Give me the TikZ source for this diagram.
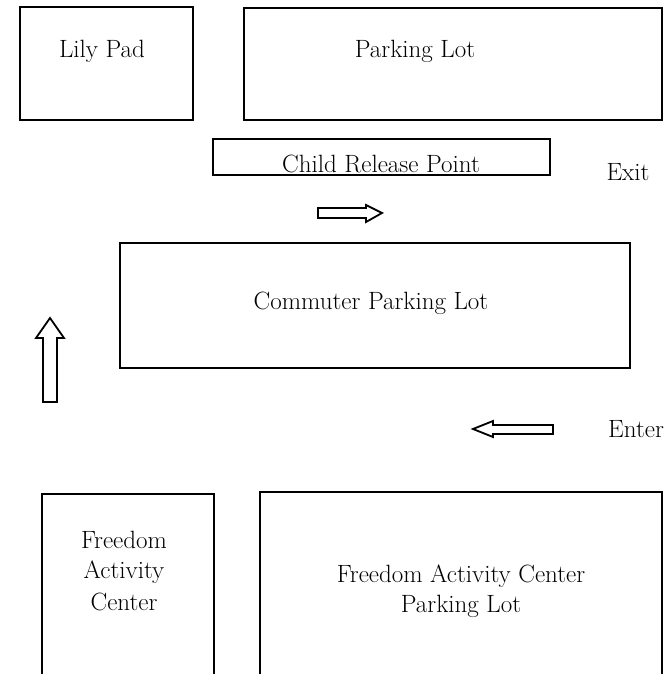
\documentclass[tikz,border=0pt]{standalone}
\usepackage{fontspec}
\setmainfont{Latin Modern Roman}
\begin{document}
\begin{tikzpicture}[x=1pt,y=-1pt,
  box/.style={draw=black,line width=2pt},
  blockarrow/.style={draw=black,line width=1.8pt,fill=white,line join=miter},
  lbl/.style={font=\fontsize{25}{30}\selectfont,inner sep=0pt,anchor=base}]
\useasboundingbox (0,0) rectangle (667,674);
% boxes
\draw[box] (20,7) rectangle (193,120);
\draw[box] (244,8) rectangle (662,120);
\draw[box] (213,139) rectangle (550,175);
\draw[box] (120,243) rectangle (630,368);
\draw[box] (42,674) -- (42,494) -- (214,494) -- (214,674);
\draw[box] (260,674) -- (260,492) -- (662,492) -- (662,674);
% labels
\node[lbl] (lily) at (102,58) {Lily Pad};
\node[lbl] (park) at (415,58) {Parking Lot};
\node[lbl] (crp) at (381,172) {Child Release Point};
\node[lbl] (exit) at (628,180) {Exit};
\node[lbl] (comm) at (371,309) {Commuter Parking Lot};
\node[lbl] (enter) at (636,437) {Enter};
\node[lbl] (fac1) at (124,548) {Freedom};
\node[lbl] (fac2) at (124,578) {Activity};
\node[lbl] (fac3) at (124,610) {Center};
\node[lbl] (facp1) at (461,582) {Freedom Activity Center};
\node[lbl] (facp2) at (461,612) {Parking Lot};
% block arrows
\draw[blockarrow] (318,208) -- (366,208) -- (366,205) -- (382,213) -- (366,222) -- (366,218) -- (318,218) -- cycle;
\draw[blockarrow] (43,402) -- (43,338) -- (36,338) -- (50,318) -- (64,338) -- (57,338) -- (57,402) -- cycle;
\draw[blockarrow] (553,425) -- (493,425) -- (493,421) -- (473,429) -- (493,437) -- (493,434) -- (553,434) -- cycle;
\end{tikzpicture}
\end{document}
